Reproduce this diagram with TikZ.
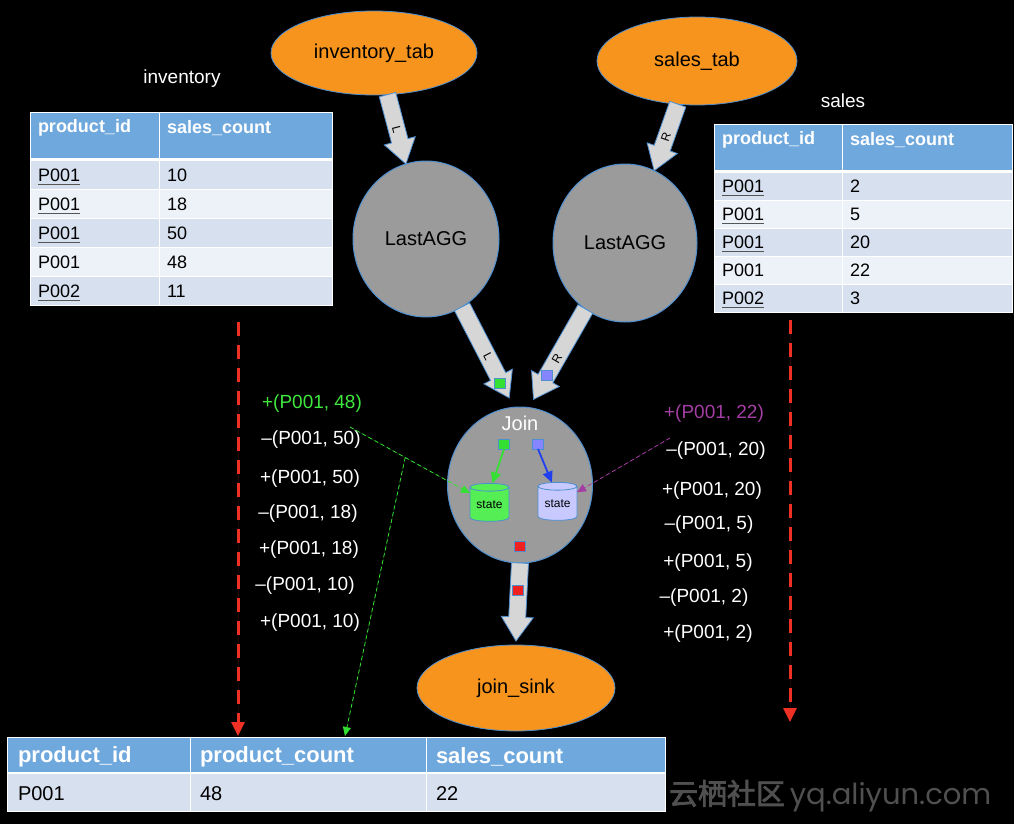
\documentclass[tikz,border=0pt]{standalone}
\usepackage{fontspec}
\setmainfont{Liberation Sans}
\newfontfamily\cjkb[FakeBold=2.5]{Noto Sans CJK SC}
\newfontfamily\wmfont{Poppins}
\usetikzlibrary{shapes.geometric,arrows.meta,calc}

\definecolor{hdr}{HTML}{6FA8DC}
\definecolor{rowA}{HTML}{D6E0EF}
\definecolor{rowB}{HTML}{EDF1F8}
\definecolor{orng}{HTML}{F7941D}
\definecolor{opgray}{HTML}{9B9B9B}
\definecolor{edgeb}{HTML}{4F8FD0}
\definecolor{arrfill}{HTML}{D6D6D6}
\definecolor{sqgreen}{HTML}{33E033}
\definecolor{sqblue}{HTML}{8585FF}
\definecolor{sqred}{HTML}{EE2020}
\definecolor{cylgreen}{HTML}{55EE55}
\definecolor{cylblue}{HTML}{C8CAFF}
\definecolor{reddash}{HTML}{EE3124}
\definecolor{purp}{HTML}{A43DA4}
\definecolor{txtgreen}{HTML}{3EE83E}
\definecolor{inblue}{HTML}{2040F0}
\definecolor{ulc}{HTML}{555555}
\definecolor{wm}{HTML}{505050}

\newcommand{\blkarrow}[2]{%
  \coordinate (bh) at ($(#2)!24pt!(#1)$);
  \draw[blk] ($(#1)!8.5pt!90:(#2)$) -- ($(bh)!8.5pt!-90:(#1)$) -- ($(bh)!16pt!-90:(#1)$) -- (#2)
     -- ($(bh)!16pt!90:(#1)$) -- ($(bh)!8.5pt!90:(#1)$) -- ($(#1)!8.5pt!-90:(#2)$) -- cycle;}

\tikzset{
  src/.style={ellipse, fill=orng, draw=edgeb, line width=0.8pt, font=\fontsize{20}{22}\selectfont, text=black},
  op/.style={ellipse, fill=opgray, draw=edgeb, line width=1pt, font=\fontsize{20}{22}\selectfont, text=black},
  blk/.style={fill=arrfill, draw=edgeb, line width=0.8pt, line join=miter},
  sq/.style={rectangle, draw=edgeb, line width=0.6pt, minimum width=11pt, minimum height=10pt, inner sep=0pt},
  lst/.style={font=\fontsize{19}{21}\selectfont, text=white, inner sep=0pt},
  cell/.style={anchor=west, inner sep=0pt, font=\fontsize{18}{20}\selectfont, text=black},
  hcell/.style={anchor=west, inner sep=0pt, font=\fontsize{18}{20}\selectfont\bfseries, text=white},
  bcell/.style={anchor=west, inner sep=0pt, font=\fontsize{20}{22}\selectfont, text=black},
  bhcell/.style={anchor=west, inner sep=0pt, font=\fontsize{22}{24}\selectfont\bfseries, text=white},
  ttl/.style={font=\fontsize{19}{21}\selectfont, text=white, inner sep=0pt},
  lbl/.style={font=\fontsize{12}{13}\selectfont, text=black, inner sep=0pt, sloped},
  reddsh/.style={draw=reddash, line width=3pt, dash pattern=on 14pt off 9pt, -{Triangle[length=14pt,width=13pt]}},
  thindsh/.style={line width=0.8pt, dash pattern=on 4pt off 3pt, -{Triangle[length=9pt,width=8pt]}},
  cyl/.style={cylinder, shape border rotate=90, aspect=0.3, minimum width=39pt, minimum height=38pt, draw=edgeb, line width=0.8pt, inner sep=0pt, font=\fontsize{12}{13}\selectfont, text=black},
  ul/.style={draw=ulc, line width=1pt}
}

\begin{document}
\begin{tikzpicture}[x=1pt,y=-1pt, every node/.style={outer sep=0pt}]
\fill[black] (0,0) rectangle (1014,824);
\useasboundingbox (0,0) rectangle (1014,824);

% ---------- inventory table ----------
\node[ttl] (invttl) at (182,79) {inventory};
\fill[white] (30,112) rectangle (333,306);
\fill[hdr] (31,113) rectangle (158.5,158);
\fill[hdr] (160,113) rectangle (332,158);
\foreach \i/\c in {0/rowA,1/rowB,2/rowA,3/rowB,4/rowA}{
  \fill[\c] (31,{160+29*\i+0.5}) rectangle (158.5,{189+29*\i-0.5});
  \fill[\c] (160,{160+29*\i+0.5}) rectangle (332,{189+29*\i-0.5});
}
\node[hcell] (invh1) at (38,128) {product\_id};
\node[hcell] (invh2) at (167,128) {sales\_count};
\foreach \i/\p/\v in {1/P001/10,2/P001/18,3/P001/50,4/P001/48,5/P002/11}{
  \node[cell] (inva\i) at (38,{146+29*\i}) {\p};
  \node[cell] (invb\i) at (167,{146+29*\i}) {\v};
}
\foreach \i in {1,2,3,5}{
  \draw[ul] ($(inva\i.south west)+(0,3)$) -- ($(inva\i.south east)+(0,3)$);
}

% ---------- sales table ----------
\node[ttl] (salttl) at (843,101) {sales};
\fill[white] (714,124) rectangle (1013,313);
\fill[hdr] (715,125) rectangle (841.5,170);
\fill[hdr] (843,125) rectangle (1012,170);
\foreach \i/\c in {0/rowA,1/rowB,2/rowA,3/rowB,4/rowA}{
  \fill[\c] (715,{172+28*\i+0.5}) rectangle (841.5,{200+28*\i-0.5});
  \fill[\c] (843,{172+28*\i+0.5}) rectangle (1012,{200+28*\i-0.5});
}
\node[hcell] (salh1) at (722,140) {product\_id};
\node[hcell] (salh2) at (850,140) {sales\_count};
\foreach \i/\p/\v in {1/P001/2,2/P001/5,3/P001/20,4/P001/22,5/P002/3}{
  \node[cell] (sala\i) at (722,{158+28*\i}) {\p};
  \node[cell] (salb\i) at (850,{158+28*\i}) {\v};
}
\foreach \i in {1,2,3,5}{
  \draw[ul] ($(sala\i.south west)+(0,3)$) -- ($(sala\i.south east)+(0,3)$);
}

% ---------- bottom result table ----------
\fill[white] (7,737) rectangle (666,812);
\fill[hdr] (8,738) rectangle (189.5,772);
\fill[hdr] (191,738) rectangle (425.5,772);
\fill[hdr] (427,738) rectangle (665,772);
\fill[rowA] (8,774) rectangle (189.5,811);
\fill[rowA] (191,774) rectangle (425.5,811);
\fill[rowA] (427,774) rectangle (665,811);
\node[bhcell] (resh1) at (18,757) {product\_id};
\node[bhcell] (resh2) at (200,757) {product\_count};
\node[bhcell] (resh3) at (436,757) {sales\_count};
\node[bcell] (resa) at (18,794) {P001};
\node[bcell] (resb) at (200,794) {48};
\node[bcell] (resc) at (436,794) {22};

% ---------- graph nodes ----------
\node[src, minimum width=206pt, minimum height=84pt] (invtab) at (374,53) {inventory\_tab};
\node[src, minimum width=200pt, minimum height=88pt] (saltab) at (697,61) {sales\_tab};
\node[op, minimum width=146pt, minimum height=156pt] (aggL) at (426,239) {LastAGG};
\node[op, minimum width=144pt, minimum height=158pt] (aggR) at (625,243) {LastAGG};
\node[op, minimum width=145pt, minimum height=156pt] (join) at (520,485) {};
\node[src, minimum width=198pt, minimum height=86pt] (sink) at (516,688) {join\_sink};
\node[font=\fontsize{20}{22}\selectfont, text=white, inner sep=0pt] (joinlbl) at (520,423) {Join};

% ---------- block arrows ----------
\coordinate (a1s) at (invtab.-72);
\coordinate (a1e) at (aggL.105);
\coordinate (a2s) at (saltab.-114);
\coordinate (a2e) at (aggR.68);
\coordinate (a3s) at (aggL.-62);
\coordinate (a3e) at ($(join.98)+(0,-10)$);
\coordinate (a4s) at (aggR.-121);
\coordinate (a4e) at ($(join.80)+(0,-9)$);
\coordinate (a5s) at (join.south);
\coordinate (a5e) at ($(sink.north)+(0,-4)$);
\blkarrow{a1s}{a1e}
\blkarrow{a2s}{a2e}
\blkarrow{a3s}{a3e}
\blkarrow{a4s}{a4e}
\blkarrow{a5s}{a5e}
\path (a1s) -- (a1e) node[lbl, pos=0.5] (lab1) {L};
\path (a2s) -- (a2e) node[lbl, pos=0.5] (lab2) {R};
\path (a3s) -- (a3e) node[lbl, pos=0.55] (lab3) {L};
\path (a4s) -- (a4e) node[lbl, pos=0.55] (lab4) {R};

% small squares
\node[sq, fill=sqgreen] (sqa) at (500,383) {};
\node[sq, fill=sqblue] (sqb) at (547,375) {};
\node[sq, fill=sqgreen] (sqc) at (504,444) {};
\node[sq, fill=sqblue] (sqd) at (538,444) {};
\node[sq, fill=sqred] (sqe) at (520,546) {};
\node[sq, fill=sqred] (sqf) at (518,590) {};

% state cylinders
\node[cyl, fill=cylgreen] (stL) at (489.5,504.5) {state};
\node[cyl, fill=cylblue] (stR) at (557.5,503.5) {state};
\draw[draw=sqgreen, line width=1.8pt, -{Triangle[length=11pt,width=10pt]}] (sqc.south) -- (stL.82);
\draw[draw=inblue, line width=1.8pt, -{Triangle[length=11pt,width=10pt]}] (sqd.south) -- (stR.105);

% ---------- change lists ----------
\node[lst, text=txtgreen] (l1) at (312,404) {+(P001, 48)};
\node[lst] (l2) at (311,440) {–(P001, 50)};
\node[lst] (l3) at (310,479) {+(P001, 50)};
\node[lst] (l4) at (308,514) {–(P001, 18)};
\node[lst] (l5) at (309,550) {+(P001, 18)};
\node[lst] (l6) at (305,586) {–(P001, 10)};
\node[lst] (l7) at (310,623) {+(P001, 10)};

\node[lst, text=purp] (r1) at (714,414) {+(P001, 22)};
\node[lst] (r2) at (716,451) {–(P001, 20)};
\node[lst] (r3) at (712,491) {+(P001, 20)};
\node[lst] (r4) at (709,525) {–(P001, 5)};
\node[lst] (r5) at (708,563) {+(P001, 5)};
\node[lst] (r6) at (704,598) {–(P001, 2)};
\node[lst] (r7) at (708,634) {+(P001, 2)};

% ---------- dashed connectors ----------
\coordinate (g0) at (350,427);
\coordinate (g1) at ($(g0)!0.46!(stL.150)$);
\coordinate (g2) at (345,736);
\draw[thindsh, draw=sqgreen, fill=sqgreen] (g0) -- (stL.150);
\draw[thindsh, draw=sqgreen, fill=sqgreen] (g1) -- (g2);
\coordinate (p0) at (670,438);
\draw[thindsh, draw=purp, fill=purp] (p0) -- (stR.30);

\coordinate (rl0) at (238,322);
\coordinate (rl1) at (238,736);
\coordinate (rr0) at (790,320);
\coordinate (rr1) at (790,722);
\draw[reddsh, fill=reddash] (rl0) -- (rl1);
\draw[reddsh, fill=reddash] (rr0) -- (rr1);

% ---------- watermark ----------
\node[anchor=west, inner sep=0pt, text=wm, font=\fontsize{29}{31}\selectfont] (wmark) at (669,796) {{\cjkb 云栖社区}\,{\wmfont yq.aliyun.com}};
\end{tikzpicture}
\end{document}
